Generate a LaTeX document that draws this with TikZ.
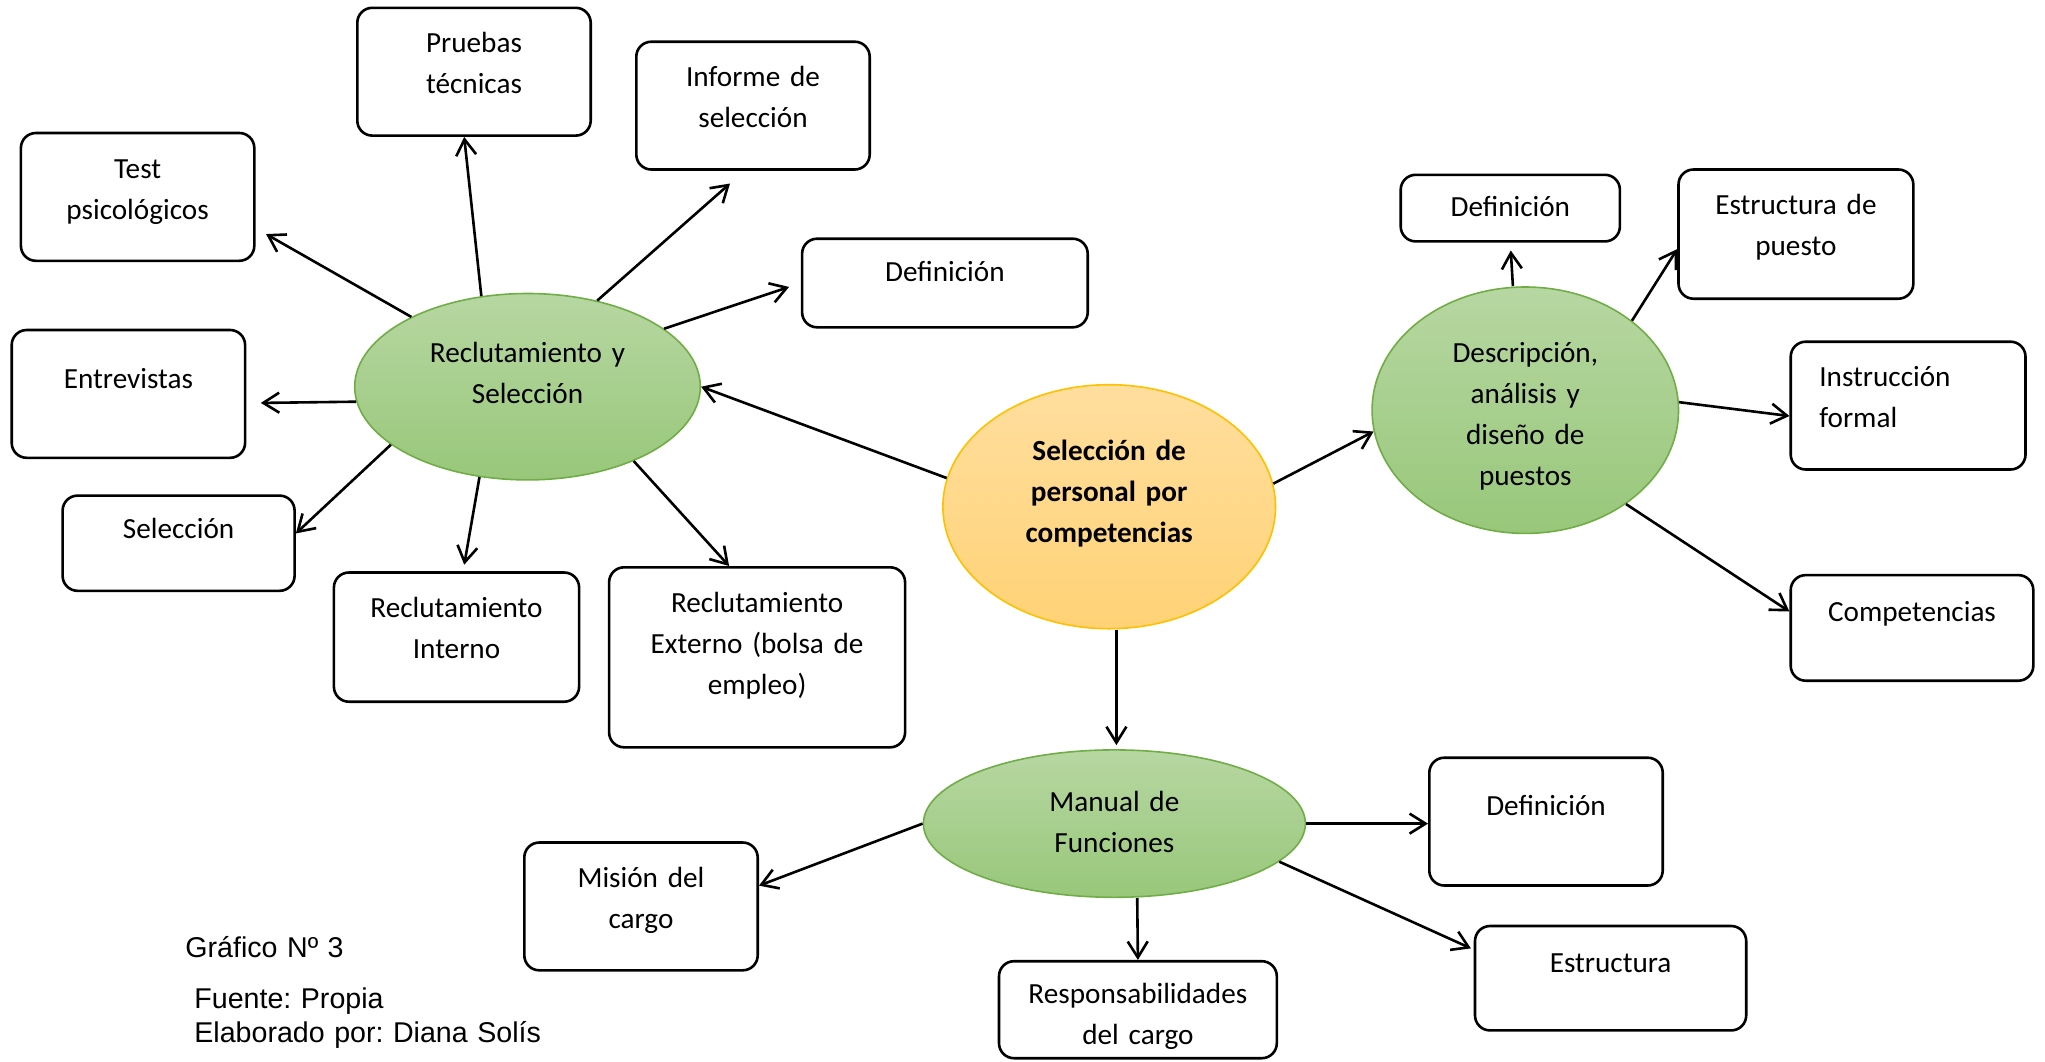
\documentclass[tikz,border=0pt]{standalone}
\usepackage{fontspec}
\setmainfont{Carlito}
\newfontfamily\arial{Liberation Sans}
\usetikzlibrary{positioning, shapes.geometric, arrows.meta}
\definecolor{VerdeBorde}{RGB}{112,173,71}
\definecolor{VerdeClaro}{RGB}{183,215,162}
\definecolor{VerdeOscuro}{RGB}{152,199,122}
\definecolor{NaranjaBorde}{RGB}{255,192,0}
\definecolor{NaranjaClaro}{RGB}{255,222,158}
\definecolor{NaranjaOscuro}{RGB}{255,210,118}
\frenchspacing

\tikzset{
  caja/.style n args={3}{draw, line width=1.3pt, rounded corners=7.5pt, inner sep=0pt,
    anchor=north west, align=center, text width=#1, text height=#2, text depth=#3},
  hub/.style={ellipse, draw=VerdeBorde, line width=0.8pt, top color=VerdeClaro,
    bottom color=VerdeOscuro, inner sep=0pt, align=center, text width=100pt, text height=0pt},
  flecha/.style={-{Straight Barb[length=8pt,width=10pt]}, line width=1.3pt},
  pie/.style={font=\arial\fontsize{14.3}{17}\selectfont, inner sep=0pt, anchor=base west,
    align=left, text width=250pt}
}

\begin{document}
\begin{tikzpicture}[x=0.5pt, y=-0.5pt, font=\fontsize{14.6}{20.5}\selectfont]
\useasboundingbox (0,0) rectangle (2045,1061);

% centro y ejes
\node[hub, draw=NaranjaBorde, top color=NaranjaClaro, bottom color=NaranjaOscuro,
  font=\fontsize{14.6}{20.5}\selectfont\bfseries,
  minimum width=166.3pt, minimum height=122pt, text depth=46.5pt] (centro) at (1109.2,506.7)
  {Selección de\\personal por\\competencias};
\node[hub, minimum width=172.8pt, minimum height=93.2pt, text depth=24.5pt] (rys) at (527.5,386.7)
  {Reclutamiento y\\Selección};
\node[hub, minimum width=153.2pt, minimum height=123.2pt, text depth=48pt] (dap) at (1525.3,410.2)
  {Descripción,\\análisis y\\diseño de\\puestos};
\node[hub, minimum width=191pt, minimum height=73.7pt, text depth=12.5pt] (mf) at (1114.4,823.6)
  {Manual de\\Funciones};

% cajas de reclutamiento
\node[caja={116.7pt}{22.5pt}{41.4pt}] (pt) at (356,6.5) {Pruebas\\técnicas};
\node[caja={116.7pt}{22.5pt}{41.4pt}] (inf) at (635,40.4) {Informe de\\selección};
\node[caja={116.7pt}{22.5pt}{41.4pt}] (tp) at (19.6,131.7) {Test\\psicológicos};
\node[caja={142.8pt}{21.2pt}{23.1pt}] (defr) at (800.8,237.4) {Definición};
\node[caja={116.7pt}{29pt}{34.9pt}] (ent) at (10.4,328.7) {Entrevistas};
\node[caja={116pt}{21.2pt}{26.4pt}] (sel) at (61.3,494.3) {Selección};
\node[caja={122.6pt}{22.5pt}{42.1pt}] (ri) at (332.6,571.2) {Reclutamiento\\Interno};
\node[caja={148pt}{22.5pt}{67.5pt}] (re) at (607.8,566) {Reclutamiento\\Externo (bolsa de\\empleo)};

% cajas de puestos
\node[caja={109.6pt}{21pt}{12.3pt}] (defd) at (1399.4,173.5) {Definición};
\node[caja={117.4pt}{22.5pt}{42.1pt}] (ep) at (1677.2,168.2) {Estructura de\\puesto};
\node[caja={88.8pt}{22.5pt}{41.4pt}, align=left, inner xsep=14.3pt] (inst) at (1789.4,340.4)
  {Instrucción\\formal};
\node[caja={121.3pt}{23pt}{29.8pt}] (comp) at (1789.4,573.8) {Competencias};

% cajas del manual
\node[caja={116.7pt}{29pt}{34.9pt}] (defm) at (1428,756.4) {Definición};
\node[caja={135.6pt}{23pt}{29.2pt}] (est) at (1473.7,924.7) {Estructura};
\node[caja={116.7pt}{22.5pt}{41.4pt}] (mis) at (523,841.2) {Misión del\\cargo};
\node[caja={138.9pt}{21.2pt}{27.3pt}] (resp) at (997.7,959.9) {Responsabilidades\\del cargo};

% pie
\node[pie] (graf) at (185,957) {Gráfico Nº 3};
\node[pie] (fuente) at (194,1008) {Fuente: Propia\\Elaborado por: Diana Solís};

% flechas
\draw[flecha] (centro.170.9) -- (rys.east);
\draw[flecha] (centro.8.9) -- (dap.188);
\draw[flecha, shorten >=2pt] ([xshift=3.6pt]centro.south) -- ([xshift=1pt]mf.north);

\draw[flecha, shorten >=6pt] (rys.149) -- ([yshift=-15.6pt]tp.east);
\draw[flecha] (rys.117) -- ([xshift=-4.9pt]pt.south);
\draw[flecha, shorten >=9.6pt] (rys.51.3) -- ([xshift=-4.3pt]inf.south);
\draw[flecha, shorten >=6.2pt] (rys.23.4) -- (defr.west);
\draw[flecha, shorten >=7.2pt] (rys.185) -- ([yshift=-4.6pt]ent.east);
\draw[flecha] (rys.203.8) -- ([yshift=4.9pt]sel.east);
\draw[flecha, shorten >=3.3pt] (rys.242.3) -- ([xshift=3.3pt]ri.north);
\draw[flecha] (rys.325) -- ([xshift=-14pt]re.north);

\draw[flecha, shorten >=3.9pt] ([xshift=-6.2pt]dap.north) -- (defd.south);
\draw[flecha] (dap.40.4) -- ([yshift=-7.5pt]ep.west);
\draw[flecha] (dap.3.7) -- ([yshift=-5.2pt]inst.west);
\draw[flecha] (dap.317.5) -- ([yshift=8.2pt]comp.west);

\draw[flecha] (mf.west) -- ([yshift=10.4pt]mis.east);
\draw[flecha] ([xshift=11.4pt]mf.south) -- (resp.north);
\draw[flecha] (mf.east) -- (mf.east -| defm.west);
\draw[flecha, shorten >=1.5pt] (mf.347.3) -- ([yshift=14.3pt]est.west);
\end{tikzpicture}
\end{document}
